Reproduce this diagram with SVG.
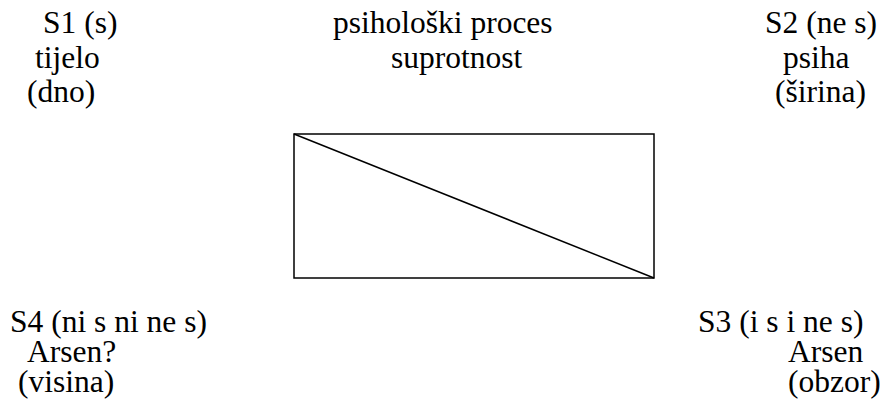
<svg xmlns="http://www.w3.org/2000/svg" width="883" height="410" viewBox="0 0 883 410">
<rect width="883" height="410" fill="#fff"/>
<g id="s1" font-family="Times New Roman" font-size="31.5">
<text x="43" y="33" font-family="Times New Roman" font-size="31.5">S1 (s)</text>
<text x="35" y="68" font-family="Times New Roman" font-size="31.5">tijelo</text>
<text x="27" y="102" font-family="Times New Roman" font-size="31.5">(dno)</text>
</g>
<g id="center" font-family="Times New Roman" font-size="31.5">
<text x="333" y="33" font-family="Times New Roman" font-size="31.5">psihološki proces</text>
<text x="391" y="68" font-family="Times New Roman" font-size="31.5">suprotnost</text>
</g>
<g id="s2" font-family="Times New Roman" font-size="31.5">
<text x="765" y="33" font-family="Times New Roman" font-size="31.5">S2 (ne s)</text>
<text x="783" y="68" font-family="Times New Roman" font-size="31.5">psiha</text>
<text x="775" y="102" font-family="Times New Roman" font-size="31.5">(širina)</text>
</g>
<g id="s4" font-family="Times New Roman" font-size="31.5">
<text x="10" y="332" font-family="Times New Roman" font-size="31.5">S4 (ni s ni ne s)</text>
<text x="27" y="362" font-family="Times New Roman" font-size="31.5">Arsen?</text>
<text x="18" y="392" font-family="Times New Roman" font-size="31.5">(visina)</text>
</g>
<g id="s3" font-family="Times New Roman" font-size="31.5">
<text x="698" y="332" font-family="Times New Roman" font-size="31.5">S3 (i s i ne s)</text>
<text x="788" y="362" font-family="Times New Roman" font-size="31.5">Arsen</text>
<text x="788" y="392" font-family="Times New Roman" font-size="31.5">(obzor)</text>
</g>
<g id="connectors" stroke="#000" stroke-width="1.5" fill="none">
<rect x="294" y="134" width="360" height="144"/>
<line x1="294" y1="134" x2="654" y2="278"/>
</g>
</svg>
